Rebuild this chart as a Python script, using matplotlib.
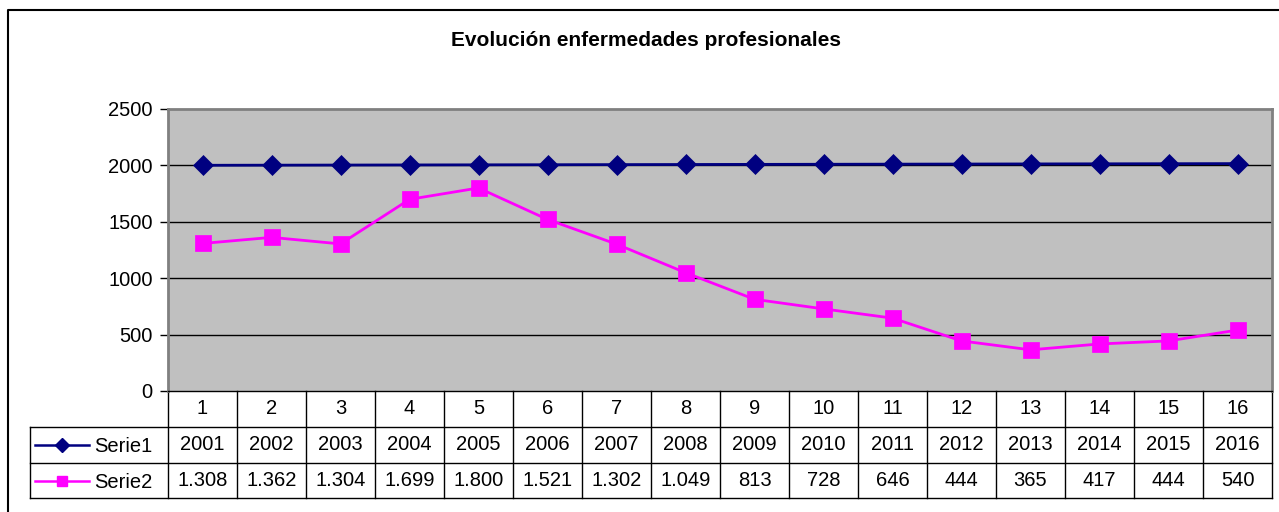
import matplotlib
matplotlib.use("Agg")
import matplotlib.pyplot as plt
import matplotlib.transforms as mtransforms
from matplotlib.lines import Line2D

plt.rcParams["font.family"] = ["Liberation Sans", "DejaVu Sans"]

categories = list(range(1, 17))
serie1 = [2001, 2002, 2003, 2004, 2005, 2006, 2007, 2008,
          2009, 2010, 2011, 2012, 2013, 2014, 2015, 2016]
serie2 = [1308, 1362, 1304, 1699, 1800, 1521, 1302, 1049,
          813, 728, 646, 444, 365, 417, 444, 540]
yticks = [0, 500, 1000, 1500, 2000, 2500]
series_names = ["Serie1", "Serie2"]
title = "Evolución enfermedades profesionales"


def thousands(v):
    return f"{v:,}".replace(",", ".")


W, H = 1279, 512
fig = plt.figure(figsize=(W / 100, H / 100), dpi=100)


def fx(x):
    return x / W


def fy(y):
    return 1 - y / H


FS = 14.5

# plot area
ax = fig.add_axes([fx(168), fy(391), (1272 - 168) / W, (391 - 109) / H])
ax.set_facecolor("#C0C0C0")
ax.set_xlim(0.5, 16.5)
ax.set_ylim(0, 2500)
ax.set_yticks(yticks)
ax.set_xticks([])
ax.tick_params(axis="y", direction="out", length=6, width=1, labelsize=FS, pad=5)
for y in yticks[1:-1]:
    ax.axhline(y, color="black", lw=1, zorder=1)
for s in ["top", "right", "left"]:
    ax.spines[s].set_color("#808080")
    ax.spines[s].set_linewidth(2)
ax.spines["bottom"].set_color("black")
ax.spines["bottom"].set_linewidth(1)

ax.plot(categories, serie1, color="#000080", lw=2, marker="D", ms=10,
        mec="#000080", mfc="#000080", mew=0.5, zorder=3)
ax.plot(categories, serie2, color="#FF00FF", lw=2, marker="s", ms=11,
        mec="#FF00FF", mfc="#FF00FF", mew=0.5, zorder=3)

# data table below the plot
blend = mtransforms.blended_transform_factory(ax.transData, fig.transFigure)
row_bot = 498
edges = [c - 0.5 for c in categories] + [categories[-1] + 0.5]
for e in edges:
    ax.plot([e, e], [fy(391), fy(row_bot)], color="black", lw=1,
            transform=blend, clip_on=False)
for y in [427, 463, 498]:
    fig.add_artist(Line2D([fx(30), fx(1272)], [fy(y), fy(y)], color="black", lw=1))
fig.add_artist(Line2D([fx(30), fx(30)], [fy(427), fy(row_bot)], color="black", lw=1))

for c, v1, v2 in zip(categories, serie1, serie2):
    ax.text(c, fy(409), str(c), transform=blend, ha="center", va="center", fontsize=FS)
    ax.text(c, fy(445), str(v1), transform=blend, ha="center", va="center", fontsize=FS)
    ax.text(c, fy(481), thousands(v2), transform=blend, ha="center", va="center", fontsize=FS)

# legend keys in the table
for name, yc, col, mk, ms in [(series_names[0], 445, "#000080", "D", 7.5),
                              (series_names[1], 481, "#FF00FF", "s", 7.5)]:
    fig.add_artist(Line2D([fx(35), fx(89)], [fy(yc), fy(yc)], color=col, lw=1.8))
    fig.add_artist(Line2D([fx(62)], [fy(yc)], color=col, marker=mk, ms=ms,
                          mec=col, mfc=col, lw=0))
    fig.text(fx(94), fy(yc + 1), name, ha="left", va="center", fontsize=FS)

# chart border
fig.add_artist(Line2D([fx(8), fx(8), fx(1279)], [fy(512), fy(10), fy(10)],
                      color="black", lw=1.5))

fig.text(fx(646), fy(41), title, ha="center", va="center",
         fontsize=15, fontweight="bold")

fig.savefig("out.png", dpi=100)
